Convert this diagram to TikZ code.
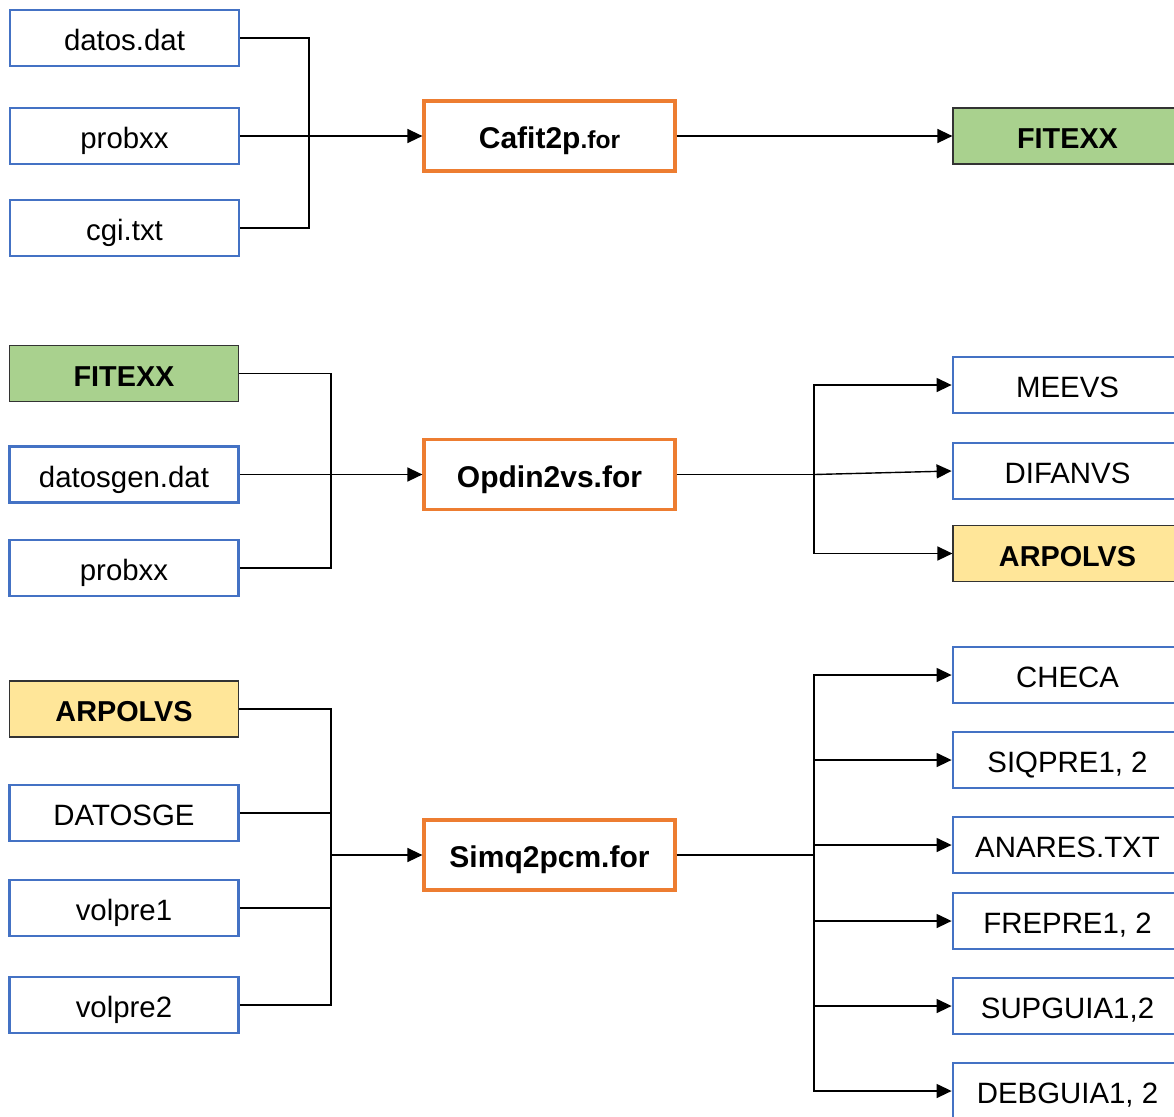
\documentclass[tikz,border=0pt]{standalone}
\usepackage{fontspec}
\setmainfont{Liberation Sans}
\usetikzlibrary{arrows.meta}
\definecolor{azulborde}{HTML}{4472C4}
\definecolor{naranja}{HTML}{ED7D31}
\definecolor{verde}{HTML}{A9D18E}
\definecolor{amarillo}{HTML}{FFE699}
\tikzset{
  archivo/.style={draw=azulborde, line width=1.4pt, fill=white, minimum width=114.5pt,
    minimum height=28pt, inner sep=0pt, text height=13pt, text depth=0.4pt,
    font=\fontsize{14.7}{17}\selectfont},
  programa/.style={draw=naranja, line width=1.6pt, fill=white, minimum width=125.5pt,
    minimum height=35pt, inner sep=0pt, text height=13pt, text depth=0.4pt,
    font=\bfseries\fontsize{15}{18}\selectfont},
  ajuste/.style={archivo, draw=black!80, line width=0.6pt, fill=verde,
    font=\bfseries\fontsize{14.4}{17}\selectfont},
  polin/.style={ajuste, fill=amarillo},
  enlace/.style={line width=0.7pt},
  flecha/.style={enlace, -{Triangle[length=7.5pt,width=7pt]}}
}
\begin{document}
\begin{tikzpicture}[x=0.5pt, y=-0.5pt]
    \useasboundingbox (0,0) rectangle (1174,1116);
    \clip (0,0) rectangle (1174,1116);
    % Etapa 1: ajuste
    \node[archivo] (datos) at (124.5,38) {datos.dat};
    \node[archivo] (prob1) at (124.5,136) {probxx};
    \node[archivo] (cgi) at (124.5,228) {cgi.txt};
    \node[programa] (cafit) at (549.5,136) {Cafit2p{\fontsize{12.3}{14}\selectfont.for}};
    \node[ajuste] (fitout) at (1067.5,136) {FITEXX};
    \coordinate (bus1) at (309,136);
    \draw[enlace] (datos.east) -| (bus1);
    \draw[enlace] (cgi.east) -| (bus1);
    \draw[enlace] (prob1.east) -- (bus1);
    \draw[flecha] (bus1) -- (cafit.west);
    \draw[flecha] (cafit.east) -- (fitout.west);
    % Etapa 2: polinomios
    \node[ajuste] (fitin) at (124,373.5) {FITEXX};
    \node[archivo] (datosgen) at (124,474.5) {datosgen.dat};
    \node[archivo] (prob2) at (124,568) {probxx};
    \node[programa] (opdin) at (549.5,474.5) {Opdin2vs.for};
    \node[archivo] (meevs) at (1067.5,385) {MEEVS};
    \node[archivo] (difanvs) at (1067.5,471) {DIFANVS};
    \node[polin] (arpout) at (1067.5,553.5) {ARPOLVS};
    \coordinate (bus2) at (331,474.5);
    \coordinate (sal2) at (814,474.5);
    \draw[enlace] (fitin.east) -| (bus2);
    \draw[enlace] (prob2.east) -| (bus2);
    \draw[enlace] (datosgen.east) -- (bus2);
    \draw[flecha] (bus2) -- (opdin.west);
    \draw[enlace] (opdin.east) -- (sal2);
    \draw[flecha] (sal2) |- (meevs.west);
    \draw[flecha] (sal2) -- (difanvs.west);
    \draw[flecha] (sal2) |- (arpout.west);
    % Etapa 3: simulacion
    \node[polin] (arpin) at (124,709) {ARPOLVS};
    \node[archivo] (datosge) at (124,813) {DATOSGE};
    \node[archivo] (volpre1) at (124,908) {volpre1};
    \node[archivo] (volpre2) at (124,1005) {volpre2};
    \node[programa] (simq) at (549.5,855) {Simq2pcm.for};
    \node[archivo] (checa) at (1067.5,675) {CHECA};
    \node[archivo] (siqpre) at (1067.5,760) {SIQPRE1, 2};
    \node[archivo] (anares) at (1067.5,845) {ANARES.TXT};
    \node[archivo] (frepre) at (1067.5,921) {FREPRE1, 2};
    \node[archivo] (supguia) at (1067.5,1006) {SUPGUIA1,2};
    \node[archivo] (debguia) at (1067.5,1091) {DEBGUIA1, 2};
    \coordinate (bus3) at (331,855);
    \coordinate (sal3) at (814,855);
    \draw[enlace] (arpin.east) -| (bus3);
    \draw[enlace] (datosge.east) -| (bus3);
    \draw[enlace] (volpre1.east) -| (bus3);
    \draw[enlace] (volpre2.east) -| (bus3);
    \draw[flecha] (bus3) -- (simq.west);
    \draw[enlace] (simq.east) -- (sal3);
    \draw[flecha] (sal3) |- (checa.west);
    \draw[flecha] (sal3) |- (siqpre.west);
    \draw[flecha] (sal3) |- (anares.west);
    \draw[flecha] (sal3) |- (frepre.west);
    \draw[flecha] (sal3) |- (supguia.west);
    \draw[flecha] (sal3) |- (debguia.west);
\end{tikzpicture}
\end{document}
